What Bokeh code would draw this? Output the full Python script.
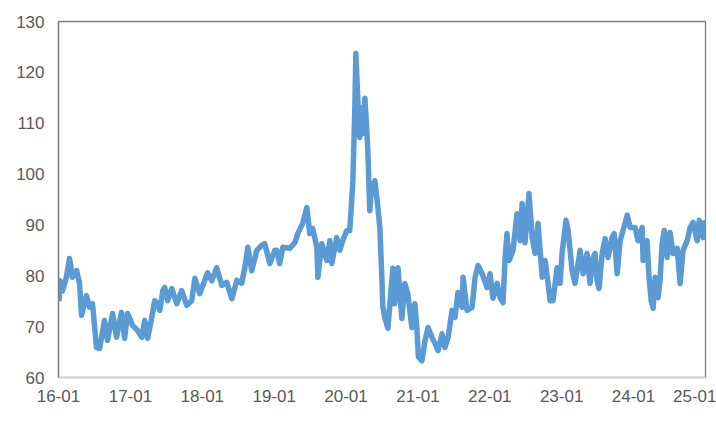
import pandas as pd
from bokeh.plotting import figure
from bokeh.models import FixedTicker, DatetimeTickFormatter, Range1d
from bokeh.embed import file_html
from bokeh.resources import INLINE

dates = [
    "2016-01-04", "2016-01-08", "2016-01-21", "2016-02-10", "2016-02-26", "2016-03-12",
    "2016-04-02", "2016-04-17", "2016-04-27", "2016-05-22", "2016-06-07", "2016-06-22",
    "2016-07-12", "2016-07-28", "2016-08-22", "2016-09-06", "2016-10-02", "2016-10-22",
    "2016-11-16", "2016-12-02", "2016-12-17",
    "2017-01-12", "2017-02-07", "2017-02-27", "2017-03-14", "2017-03-29", "2017-04-19",
    "2017-05-04", "2017-05-19", "2017-05-30", "2017-06-14", "2017-06-24", "2017-07-09",
    "2017-07-30", "2017-08-24", "2017-09-18", "2017-10-14", "2017-11-08", "2017-11-24",
    "2017-12-19",
    "2018-01-28", "2018-02-18", "2018-03-15", "2018-04-10", "2018-05-05", "2018-05-31",
    "2018-06-25", "2018-07-20", "2018-08-05", "2018-08-20", "2018-09-09", "2018-10-05",
    "2018-10-30", "2018-11-14", "2018-12-10",
    "2019-01-04", "2019-01-14", "2019-01-29", "2019-02-14", "2019-03-21", "2019-04-16",
    "2019-05-01", "2019-05-26", "2019-06-16", "2019-07-01", "2019-07-16", "2019-08-06",
    "2019-08-11", "2019-08-31", "2019-09-15", "2019-09-26", "2019-10-11", "2019-10-21",
    "2019-11-15", "2019-12-01", "2019-12-16",
    "2020-01-05", "2020-01-20", "2020-01-31", "2020-02-05", "2020-02-15", "2020-02-20",
    "2020-03-01", "2020-03-11", "2020-03-21", "2020-03-26", "2020-04-06", "2020-04-16",
    "2020-04-21", "2020-05-01", "2020-05-11", "2020-05-16", "2020-05-27", "2020-06-11",
    "2020-06-21", "2020-07-01", "2020-07-06", "2020-07-16", "2020-08-01", "2020-08-26",
    "2020-09-05", "2020-09-21", "2020-10-11", "2020-10-26", "2020-11-10", "2020-12-01",
    "2020-12-16", "2020-12-26",
    "2021-01-03", "2021-01-21", "2021-02-06", "2021-02-21", "2021-03-13", "2021-03-28",
    "2021-04-13", "2021-05-03", "2021-05-18", "2021-06-03", "2021-06-23", "2021-07-08",
    "2021-07-23", "2021-08-13", "2021-08-18", "2021-09-07", "2021-10-03", "2021-10-18",
    "2021-11-02", "2021-11-23", "2021-12-18",
    "2022-01-02", "2022-01-17", "2022-02-07", "2022-02-22", "2022-03-09", "2022-03-19",
    "2022-03-29", "2022-04-09", "2022-04-29", "2022-05-19", "2022-06-04", "2022-06-14",
    "2022-06-29", "2022-07-19", "2022-08-04", "2022-08-19", "2022-09-03", "2022-09-24",
    "2022-10-09", "2022-10-24", "2022-11-03", "2022-11-18", "2022-12-09", "2022-12-24",
    "2023-01-03", "2023-01-23", "2023-02-03", "2023-02-23", "2023-03-10", "2023-04-05",
    "2023-04-20", "2023-05-10", "2023-05-25", "2023-06-10", "2023-06-20", "2023-06-30",
    "2023-07-10", "2023-07-26", "2023-08-10", "2023-08-25", "2023-09-14", "2023-09-25",
    "2023-10-10", "2023-10-25", "2023-11-09", "2023-11-30", "2023-12-15",
    "2024-01-09", "2024-01-24", "2024-02-14", "2024-02-19", "2024-03-10", "2024-03-20",
    "2024-03-31", "2024-04-10", "2024-04-20", "2024-05-05", "2024-05-15", "2024-05-25",
    "2024-06-05", "2024-06-20", "2024-07-05", "2024-07-20", "2024-08-10", "2024-08-25",
    "2024-09-09", "2024-09-30", "2024-10-15", "2024-10-30", "2024-11-20", "2024-11-30",
    "2024-12-20", "2024-12-30",
]

values = [
    75.0, 79.0, 77.0, 79.7, 83.4, 79.7,
    81.0, 78.5, 72.2, 76.1, 73.8, 74.5,
    65.9, 65.7, 71.2, 67.3, 72.6, 67.9,
    72.8, 67.7, 72.6,
    70.2, 69.2, 67.9, 71.2, 67.7, 71.8,
    75.1, 74.5, 73.2, 77.1, 77.7, 75.1,
    77.5, 74.5, 77.1, 74.2, 75.1, 79.5,
    76.5,
    80.6, 79.0, 81.6, 78.1, 78.7, 75.5,
    79.1, 78.5, 81.6, 85.6, 81.0, 85.0,
    86.0, 86.3, 82.4,
    85.0, 85.0, 82.4, 85.6, 85.4, 86.5,
    88.3, 90.3, 93.4, 88.3, 89.3, 85.6,
    79.7, 86.3, 84.4, 83.0, 86.9, 82.4,
    87.5, 85.0, 87.0,
    88.9, 88.9, 95.4, 98.7, 113.0, 123.7,
    115.0, 107.2, 113.0, 108.0, 114.9, 108.6,
    104.6, 92.8, 98.1, 96.2, 98.7, 93.4,
    89.5, 80.0, 74.0, 71.8, 69.7, 81.5,
    74.5, 81.6, 71.6, 78.5, 76.5, 69.8,
    74.5, 69.8,
    64.0, 63.3, 67.3, 69.8, 67.9, 66.7,
    65.3, 68.6, 65.9, 67.9, 73.2, 71.8,
    76.7, 73.8, 79.7, 73.2, 73.8, 79.7,
    82.0, 80.4, 77.7,
    80.4, 75.6, 78.5, 75.7, 74.7, 83.0,
    88.3, 83.0, 85.0, 92.2, 86.9, 94.2,
    86.5, 96.2, 87.5, 84.4, 90.3, 79.7,
    83.0, 78.5, 75.1, 75.1, 81.6, 78.5,
    84.4, 90.9, 88.9, 81.0, 78.5, 85.0,
    80.4, 84.4, 78.5, 83.6, 84.4, 79.1,
    77.5, 84.4, 87.3, 83.6, 87.5, 88.3,
    80.4, 86.9, 88.9, 91.9, 89.5,
    89.5, 86.9, 89.5, 83.0, 86.9, 79.7,
    75.1, 73.6, 79.7, 75.7, 79.1, 86.0,
    88.9, 83.6, 88.5, 84.4, 85.4, 78.5,
    85.0, 86.9, 89.5, 90.5, 86.9, 90.9,
    87.5, 90.9,
]

tick_dates = ["2016-01-01", "2017-01-01", "2018-01-01", "2019-01-01", "2020-01-01",
              "2021-01-01", "2022-01-01", "2023-01-01", "2024-01-01", "2025-01-01"]
y_ticks = [60, 70, 80, 90, 100, 110, 120, 130]

x = pd.to_datetime(dates)
tick_ms = [pd.Timestamp(d).value / 1e6 for d in tick_dates]

p = figure(width=716, height=419, x_axis_type="datetime",
           output_backend="svg", toolbar_location=None,
           x_range=Range1d(tick_ms[0], tick_ms[-1]),
           y_range=Range1d(60, 130),
           min_border_left=58, min_border_right=11,
           min_border_top=21, min_border_bottom=42)

p.line(x, values, line_color="#5B9BD5", line_width=5.5, line_join="round")

p.xgrid.grid_line_color = None
p.ygrid.grid_line_color = None
p.outline_line_color = "#7f7f7f"
p.outline_line_width = 1.3

fmt = "%y-%m"
p.xaxis.ticker = FixedTicker(ticks=tick_ms)
p.xaxis.formatter = DatetimeTickFormatter(years=fmt, months=fmt, days=fmt, hours=fmt,
                                          minutes=fmt, seconds=fmt, milliseconds=fmt,
                                          microseconds=fmt, hourmin=fmt, minsec=fmt)
p.yaxis.ticker = FixedTicker(ticks=y_ticks)

for ax in (p.xaxis, p.yaxis):
    ax.major_tick_line_color = None
    ax.minor_tick_line_color = None
    ax.major_tick_out = 0
    ax.major_tick_in = 0
    ax.major_label_text_font = "Liberation Sans"
    ax.major_label_text_font_size = "17px"
    ax.major_label_text_color = "#595959"

p.xaxis.axis_line_color = "#d9d9d9"
p.xaxis.axis_line_width = 2
p.xaxis.major_label_standoff = 12
p.yaxis.axis_line_color = "#7f7f7f"
p.yaxis.axis_line_width = 1.3
p.yaxis.major_label_standoff = 14

open("out.html", "w").write(file_html(p, INLINE))
